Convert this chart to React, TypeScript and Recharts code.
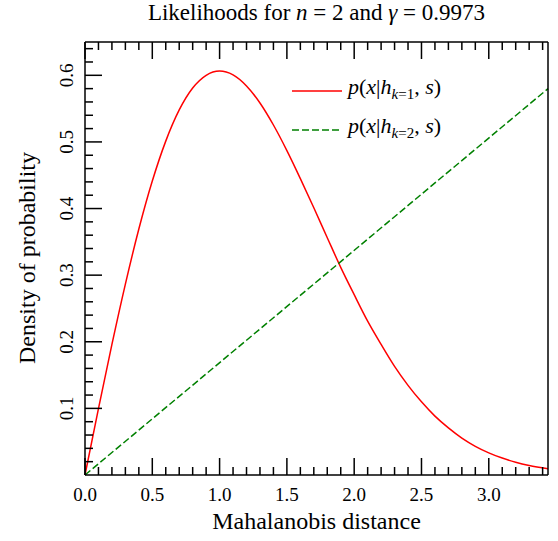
import React from "react";
import { LineChart, Line, XAxis, YAxis } from "recharts";

const xs = [0,0.1,0.2,0.3,0.4,0.5,0.6,0.7,0.8,0.9,1.0,1.1,1.2,1.3,1.4,1.5,1.6,1.7,1.8,1.9,2.0,2.1,2.2,2.3,2.4,2.5,2.6,2.7,2.8,2.9,3.0,3.1,3.2,3.3,3.44];
const red = [0,0.0995,0.196,0.2866,0.3692,0.4412,0.5012,0.548,0.5809,0.6,0.6065,0.6007,0.5841,0.5585,0.5254,0.487,0.445,0.4011,0.3562,0.3117,0.2707,0.231,0.1961,0.1631,0.1346,0.1098,0.0884,0.0707,0.0554,0.0431,0.0333,0.0254,0.0191,0.0142,0.0093];
const greenX = [0, 3.44];
const greenY = [0, 0.58];
const xTickVals = [0,0.1,0.2,0.3,0.4,0.5,0.6,0.7,0.8,0.9,1,1.1,1.2,1.3,1.4,1.5,1.6,1.7,1.8,1.9,2,2.1,2.2,2.3,2.4,2.5,2.6,2.7,2.8,2.9,3,3.1,3.2,3.3,3.4];
const yTickVals = [0.02,0.04,0.06,0.08,0.1,0.12,0.14,0.16,0.18,0.2,0.22,0.24,0.26,0.28,0.3,0.32,0.34,0.36,0.38,0.4,0.42,0.44,0.46,0.48,0.5,0.52,0.54,0.56,0.58,0.6,0.62,0.64];

const data = xs.map((x, i) => {
  const gi = greenX.indexOf(x);
  return { x, red: red[i], green: gi >= 0 ? greenY[gi] : null };
});

const FONT = "'Liberation Serif', serif";
const isMajorX = (v: number) => Math.round(v * 10) % 5 === 0;
const isMajorY = (v: number) => Math.round(v * 100) % 10 === 0;

const XTick = (dir: number, label: boolean) => (p: any) => {
  const v = p.payload.value;
  const major = isMajorX(v);
  const len = major ? 17 : 8;
  return (
    <g>
      <line x1={p.x} x2={p.x} y1={p.y} y2={p.y - dir * len} stroke="#000" strokeWidth={1.5} />
      {label && major && (
        <text x={p.x} y={p.y + 26} textAnchor="middle" fontFamily={FONT} fontSize={19} fill="#000">{v.toFixed(1)}</text>
      )}
    </g>
  );
};
const YTick = (dir: number, label: boolean) => (p: any) => {
  const v = p.payload.value;
  const major = isMajorY(v);
  const len = major ? 17 : 8;
  return (
    <g>
      <line x1={p.x} x2={p.x + dir * len} y1={p.y} y2={p.y} stroke="#000" strokeWidth={1.5} />
      {label && major && (
        <text x={p.x - 12} y={p.y} transform={`rotate(-90 ${p.x - 12} ${p.y})`} textAnchor="middle" fontFamily={FONT} fontSize={19} fill="#000">{v.toFixed(1)}</text>
      )}
    </g>
  );
};

export default function App() {
  return (
    <div style={{ position: "absolute", left: 0, top: 0, width: 558, height: 541, background: "#fff", fontFamily: FONT }}>
      <LineChart width={558} height={541} data={data} margin={{ top: 41, left: 84, right: 9, bottom: 65 }}>
        <XAxis xAxisId="b" dataKey="x" type="number" domain={[0, 3.44]} ticks={xTickVals} tickSize={0} tickMargin={0} height={1} tick={XTick(1, true)} stroke="#000" strokeWidth={1.5} interval={0} />
        <XAxis xAxisId="t" dataKey="x" orientation="top" type="number" domain={[0, 3.44]} ticks={xTickVals} tickSize={0} tickMargin={0} height={1} tick={XTick(-1, false)} stroke="#000" strokeWidth={1.5} interval={0} />
        <YAxis yAxisId="l" type="number" domain={[0, 0.65]} ticks={yTickVals} tickSize={0} tickMargin={0} width={1} tick={YTick(1, true)} stroke="#000" strokeWidth={1.5} interval={0} />
        <YAxis yAxisId="r" orientation="right" type="number" domain={[0, 0.65]} ticks={yTickVals} tickSize={0} tickMargin={0} width={1} tick={YTick(-1, false)} stroke="#000" strokeWidth={1.5} interval={0} />
        <Line xAxisId="b" yAxisId="l" dataKey="red" stroke="#ff0000" strokeWidth={1.5} dot={false} type="monotone" isAnimationActive={false} />
        <Line xAxisId="b" yAxisId="l" dataKey="green" stroke="#008000" strokeWidth={1.5} strokeDasharray="7 3" dot={false} connectNulls isAnimationActive={false} />
      </LineChart>
      <div style={{ position: "absolute", top: 0, left: 85, width: 463, textAlign: "center", fontSize: 23 }}>
        Likelihoods for <i>n</i> = 2 and <i>γ</i> = 0.9973
      </div>
      <div style={{ position: "absolute", top: 508, left: 85, width: 463, textAlign: "center", fontSize: 24 }}>
        Mahalanobis distance
      </div>
      <div style={{ position: "absolute", left: 27, top: 258, transform: "translate(-50%,-50%) rotate(-90deg)", fontSize: 24, whiteSpace: "nowrap" }}>
        Density of probability
      </div>
      <div style={{ position: "absolute", left: 292, top: 71, fontSize: 22, lineHeight: "31px" }}>
        <div style={{ display: "flex", alignItems: "center" }}>
          <svg width={50} height={10}><line x1={0} x2={50} y1={5} y2={5} stroke="#ff0000" strokeWidth={1.5} /></svg>
          <span style={{ marginLeft: 6 }}><i>p</i>(<i>x</i>|<i>h</i><sub style={{ fontSize: 15 }}><i>k</i>=1</sub>, <i>s</i>)</span>
        </div>
        <div style={{ display: "flex", alignItems: "center" }}>
          <svg width={50} height={10}><line x1={0} x2={50} y1={5} y2={5} stroke="#008000" strokeWidth={1.5} strokeDasharray="7 3" /></svg>
          <span style={{ marginLeft: 6 }}><i>p</i>(<i>x</i>|<i>h</i><sub style={{ fontSize: 15 }}><i>k</i>=2</sub>, <i>s</i>)</span>
        </div>
      </div>
    </div>
  );
}
